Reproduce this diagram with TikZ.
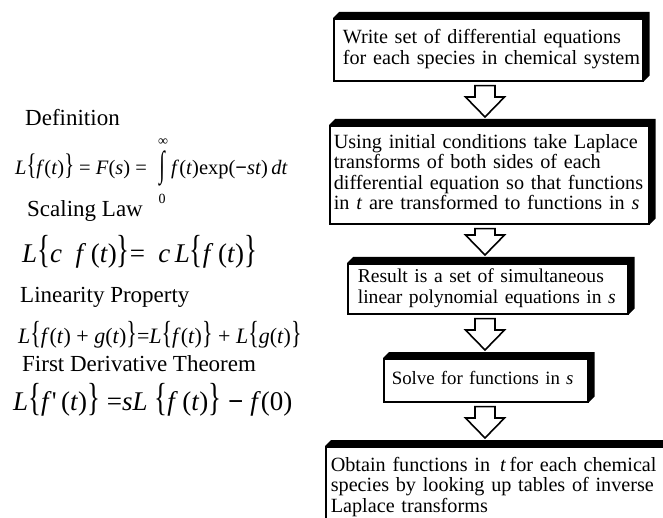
\documentclass[tikz,border=0pt]{standalone}
\usepackage{fontspec}
\setmainfont{Liberation Serif}
\usetikzlibrary{calc}

\newcommand{\lb}{\scalebox{1}[1.45]{\{}}
\newcommand{\rb}{\scalebox{1}[1.45]{\}}}
\newcommand{\mi}[1]{\textit{#1}}
% raised back edge of a step box
\newcommand{\boxedge}[1]{%
  \fill (#1.north west) -- ++(6,-6) -- ($(#1.north east)+(6,-6)$)
    -- ($(#1.south east)+(6,-6)$) -- (#1.south east) -- (#1.north east) -- cycle;}
% hollow arrow from one step box down to the next
\newcommand{\flowarrow}[2]{%
  \coordinate (top) at ($(#1.south -| ax)+(0,4)$);
  \coordinate (tip) at ($(#2.north -| ax)+(0,-8)$);
  \draw[line width=1.6pt, line join=miter] ($(top)+(-10,0)$) -- ($(tip)+(-10,-20)$)
    -- ($(tip)+(-19.5,-20)$) -- (tip) -- ($(tip)+(19.5,-20)$)
    -- ($(tip)+(10,-20)$) -- ($(top)+(10,0)$) -- cycle;}

\begin{document}
\begin{tikzpicture}[x=1pt, y=-1pt,
    stepbox/.style={draw, line width=1.6pt, fill=white, anchor=north west,
      align=left, inner ysep=0pt, font=\fontsize{20.2}{20.6}\selectfont},
    lbl/.style={anchor=base west, inner sep=0pt, font=\fontsize{23}{25}\selectfont},
    rule/.style={anchor=base west, inner sep=0pt}]
  \useasboundingbox (0,0) rectangle (663,518);
  \coordinate (ax) at (485,0);
  % Steps of the method
  \node[stepbox, text width=291, inner xsep=9, minimum height=62] (write) at (333,18)
    {\begin{tabular}{@{}l@{}}Write set of differential equations\\
      for each species in chemical system\end{tabular}};
  \node[stepbox, text width=311, inner xsep=4, minimum height=98] (transform) at (329,125)
    {\begin{tabular}{@{}l@{}}Using initial conditions take Laplace\\
      transforms of both sides of each\\
      differential equation so that functions\\
      in \mi{t} are transformed to functions in \mi{s}\end{tabular}};
  \node[stepbox, text width=260, inner xsep=10, minimum height=50,
    font=\fontsize{19.6}{20.6}\selectfont] (result) at (347,263)
    {\begin{tabular}{@{}l@{}}Result is a set of simultaneous\\
      linear polynomial equations in \mi{s}\end{tabular}};
  \node[stepbox, text width=188, inner xsep=8, minimum height=43,
    font=\fontsize{18.8}{20.6}\selectfont] (solve) at (383,358)
    {\begin{tabular}{@{}l@{}}Solve for functions in \mi{s}\end{tabular}};
  \node[stepbox, text width=330, inner xsep=5, minimum height=82] (invert) at (325,446)
    {\begin{tabular}{@{}l@{}}Obtain functions in \,\mi{t}\,for each chemical\\
      species by looking up tables of inverse\\
      Laplace transforms\end{tabular}};
  \boxedge{write}
  \boxedge{transform}
  \boxedge{result}
  \boxedge{solve}
  \boxedge{invert}
  % Arrows between steps
  \flowarrow{write}{transform}
  \flowarrow{transform}{result}
  \flowarrow{result}{solve}
  \flowarrow{solve}{invert}
  % Definition
  \node[lbl] (defn) at (25,126) {Definition};
  \node[rule, font=\fontsize{20.5}{20}\selectfont] (defleft) at (15,175)
    {\mi{L}\lb\mi{f}(\mi{t})\rb{} = \mi{F}(\mi{s}) =};
  \node[font=\fontsize{20}{20}\selectfont, inner sep=0pt] (intsign) at (162,168)
    {\scalebox{1}[1.8]{∫}};
  \node[font=\fontsize{14}{14}\selectfont, inner sep=0pt] (upper) at (163,142) {∞};
  \node[font=\fontsize{14}{14}\selectfont, inner sep=0pt] (lower) at (162,199) {0};
  \node[rule, font=\fontsize{20.5}{20}\selectfont] (defright) at (171,175)
    {\mi{f}(\mi{t})exp(\textbf{−}\mi{st})\,\mi{dt}};
  % Scaling law
  \node[lbl] (scal) at (27,217) {Scaling Law};
  \node[rule, font=\fontsize{27}{27}\selectfont] (scalrule) at (22,262)
    {\mi{L}\lb\mi{c}\enspace\mi{f}\,(\mi{t})\rb{}=\enspace\mi{c}\,\mi{L}\lb\mi{f}\,(\mi{t})\rb};
  % Linearity
  \node[lbl] (lin) at (20,302) {Linearity Property};
  \node[rule, font=\fontsize{22}{22}\selectfont] (linrule) at (18,343)
    {\mi{L}\lb\mi{f}(\mi{t}) + \mi{g}(\mi{t})\rb{}=\mi{L}\lb\mi{f}(\mi{t})\rb{} + \mi{L}\lb\mi{g}(\mi{t})\rb};
  % First derivative
  \node[lbl] (deriv) at (22,371) {First Derivative Theorem};
  \node[rule, font=\fontsize{27}{27}\selectfont] (derivrule) at (13,410)
    {\mi{L}\lb\mi{f}\textquotesingle\,(\mi{t})\rb{} =\mi{sL} \lb\mi{f}\,(\mi{t})\rb{} \textbf{−} \mi{f}(0)};
\end{tikzpicture}
\end{document}
